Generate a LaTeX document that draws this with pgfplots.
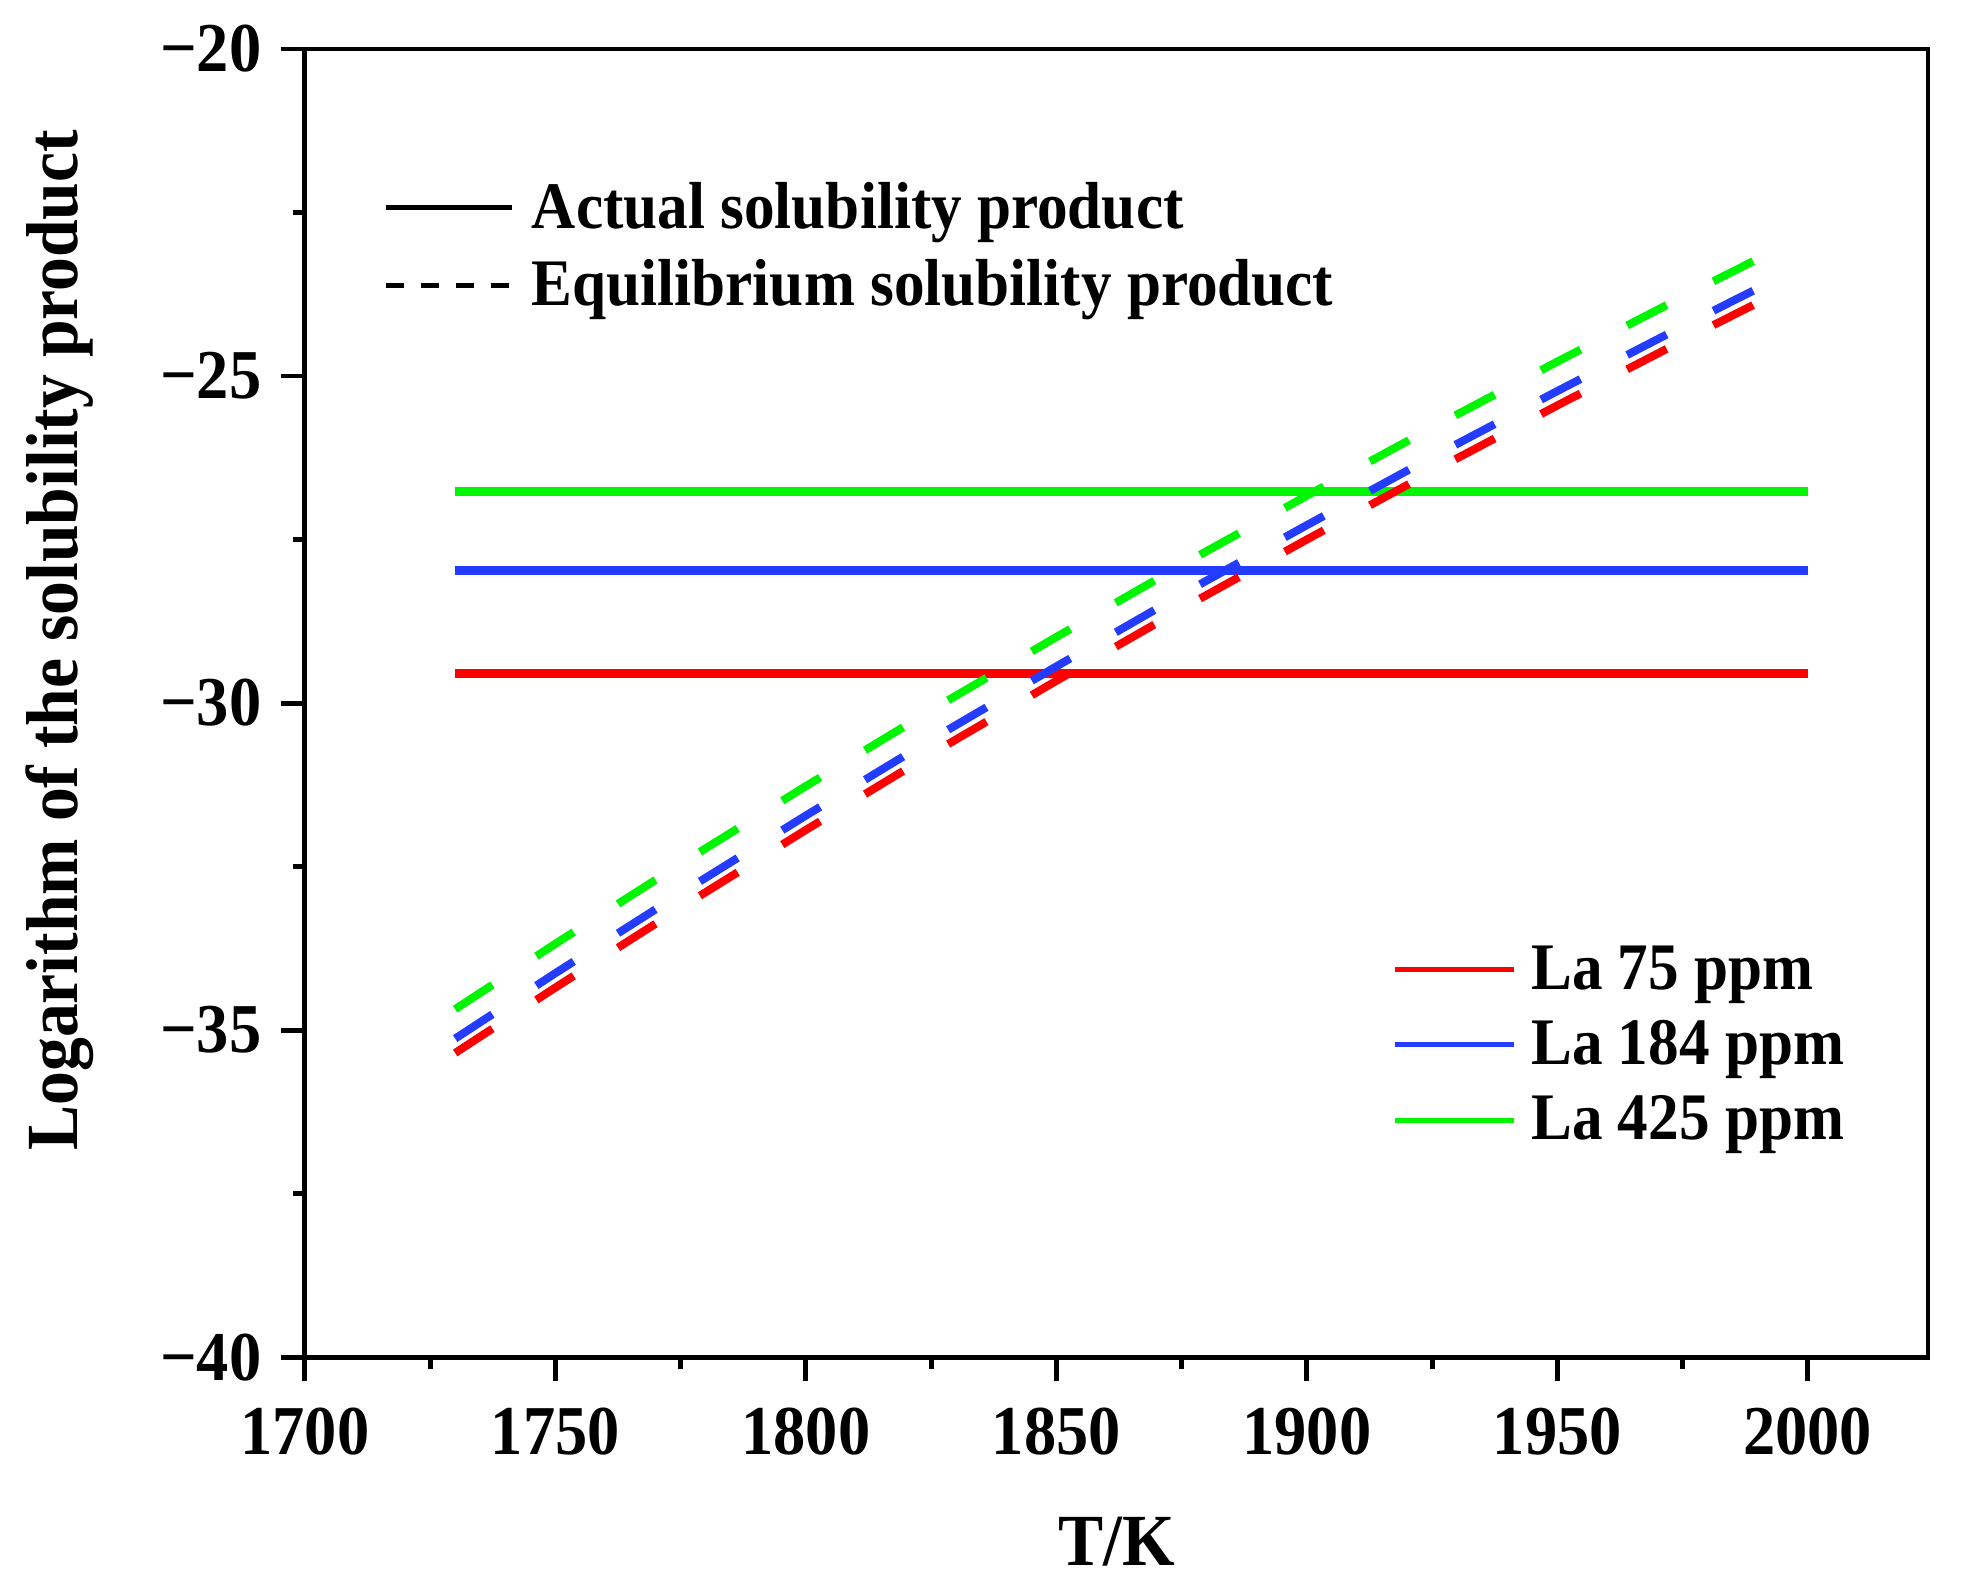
\documentclass[border=0pt]{standalone}
\usepackage{fontspec}
\setmainfont{Liberation Serif}[FakeStretch=0.92]
\usepackage{pgfplots}
\pgfplotsset{compat=1.18}
\usepackage{pgfplotstable}

\definecolor{cred}{RGB}{255,0,0}
\definecolor{cblue}{RGB}{35,60,255}
\definecolor{cgreen}{RGB}{0,245,0}

% equilibrium solubility product (dashed)
\pgfplotstableread{
T     r       b       g
1730  -35.35  -35.13  -34.68
1750  -34.35  -34.13  -33.68
1775  -33.13  -32.91  -32.46
1800  -31.94  -31.72  -31.27
1825  -30.78  -30.56  -30.11
1850  -29.66  -29.44  -28.99
1875  -28.56  -28.34  -27.89
1900  -27.50  -27.28  -26.83
1925  -26.46  -26.24  -25.79
1950  -25.45  -25.23  -24.78
1975  -24.46  -24.24  -23.79
1990  -23.88  -23.66  -23.21
}\eqdata

\begin{document}
\begin{tikzpicture}
\pgfplotsset{
  every axis/.append style={
    scale only axis, width=463.7pt, height=373.7pt,
    xmin=1700, xmax=2024, ymin=-40, ymax=-20,
  },
}
\begin{axis}[
  name=ax,
  axis line style={line width=1.4pt},
  tick style={line width=1.4pt, black},
  major tick length=6.9pt, minor tick length=3.4pt,
  tick align=outside, xtick pos=bottom, ytick pos=left,
  xtick={1700,1750,...,2000},
  ytick={-40,-35,...,-20},
  yticklabels={−40,−35,−30,−25,−20},
  minor tick num=1,
  /pgf/number format/assume math mode=true,
  /pgf/number format/set thousands separator={},
  ticklabel style={font=\bfseries\fontsize{20}{24}\selectfont},
  xticklabel style={yshift=-4pt},
  yticklabel style={xshift=-2pt},
  xlabel={T/K},
  ylabel={Logarithm of the solubility product},
  label style={font=\bfseries\fontsize{21}{25}\selectfont},
  xlabel style={at={(axis description cs:0.5,-0.1414)}, anchor=center},
  ylabel style={at={(axis description cs:-0.151,0.548)}, anchor=center},
  legend image code/.code={\draw[#1, line width=1.4pt] (0pt,0pt) -- (34pt,0pt);},
  legend cell align=left,
  legend style={draw=none, fill=none, inner sep=0pt,
    font=\bfseries\fontsize{19}{23}\selectfont,
    row sep=7.4pt,
    nodes={inner sep=0pt},
    at={(axis description cs:0.6695,0.2385)}, anchor=west},
  /tikz/every odd column/.append style={column sep=4.3pt},
]
\addplot[cred, line width=2.5pt, forget plot] coordinates {(1730,-29.55) (2000,-29.55)};
\addplot[cblue, line width=2.5pt, forget plot] coordinates {(1730,-27.97) (2000,-27.97)};
\addplot[cgreen, line width=2.5pt, forget plot] coordinates {(1730,-26.76) (2000,-26.76)};
\addplot[cred, line width=2.3pt, dash pattern=on 12.7pt off 15pt, forget plot] table[x=T, y=r] {\eqdata};
\addplot[cblue, line width=2.3pt, dash pattern=on 12.7pt off 15pt, forget plot] table[x=T, y=b] {\eqdata};
\addplot[cgreen, line width=2.3pt, dash pattern=on 12.7pt off 15pt, forget plot] table[x=T, y=g] {\eqdata};
\addlegendimage{cred}
\addlegendimage{cblue}
\addlegendimage{cgreen}
\legend{La 75 ppm, La 184 ppm, La 425 ppm}
\end{axis}
\begin{axis}[
  hide axis,
  legend image code/.code={\draw[#1, line width=1.4pt] (0pt,0pt) -- (36pt,0pt);},
  legend cell align=left,
  legend style={draw=none, fill=none, inner sep=0pt,
    font=\bfseries\fontsize{19}{23}\selectfont,
    row sep=7.4pt,
    nodes={inner sep=0pt},
    at={(axis description cs:0.048,0.849)}, anchor=west},
  /tikz/every odd column/.append style={column sep=5pt},
]
\addlegendimage{black, solid}
\addlegendimage{black, dash pattern=on 5.2pt off 4.8pt}
\legend{Actual solubility product, Equilibrium solubility product}
\end{axis}
\pgfresetboundingbox
\useasboundingbox ([shift={(-87.1pt,-68pt)}]ax.south west) rectangle ([shift={(10pt,14pt)}]ax.north east);
\end{tikzpicture}
\end{document}
